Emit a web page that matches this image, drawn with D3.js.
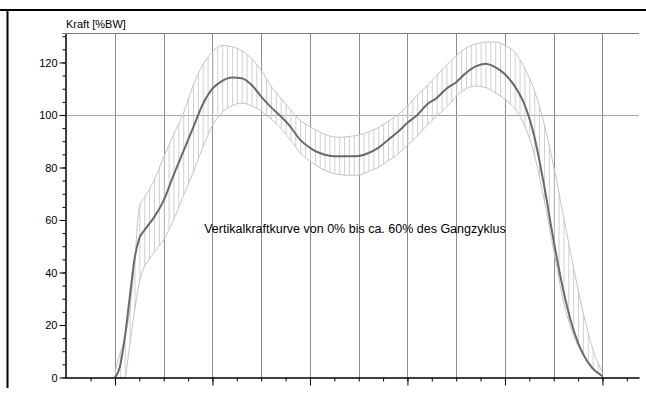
<!DOCTYPE html>
<html><head><meta charset="utf-8">
<script src="https://cdn.jsdelivr.net/npm/d3@7"></script>
<style>
body{margin:0;background:#fff}
svg{display:block}
text{font-family:"Liberation Sans",Arial,sans-serif}
</style>
</head><body>
<svg id="c" width="646" height="394"></svg>
<script>
// --- data (stance phase, normalized 0..100) ---
const stance = [0,1,2,3,4,5,6,7,8,10,12,14,16,18,20,22,24,26,28,30,32,34,36,38,40,42,44,46,48,50,52,54,56,58,60,62,64,66,68,70,72,74,76,78,80,82,84,86,88,90,92,94,96,98,100];
const meanForce = [0,4,15,30,45,53,56,58.5,61,67.5,77,86,95,104,110,113,114.3,114,111.5,107,103,99.5,95.5,90.5,87.5,85.5,84.5,84.3,84.3,84.4,85.5,87.5,90.5,93.5,97,100,104,106.5,110,112.5,116,118.5,119.5,118.2,115.5,111,104,92,73.5,52,33,18.5,9,3.5,0.5];
const upperForce = [2,9,15,25,43,65,68.5,71.5,75,84,92.5,100.5,111,119,124,126.5,126,124.5,121.5,117,111,106.5,102,98,95.5,93.5,92,91.5,91.8,92.4,93.5,95.2,97.5,100,103.5,107.5,111,115,119,122.5,125.5,127,127.8,127.8,126.5,124,118,109.5,97,80.5,61.5,42.5,25,11,2];
const lowerForce = [0,0,0,12,25,36,42,45,47.5,52.5,60,69,78,87.5,96,101,103.5,104.5,103.5,101.5,98.5,95,90.5,85.5,82.5,80,78.2,77.3,77,77.1,78.5,80,82.5,85,88.5,92,96,99.5,103,107,110,111,110.5,108.5,106,102.5,96,85,68,48.3,29,16.4,8.7,3,1];
const yTickLabels = [0,20,40,60,80,100,120];
const yMinorTicks = [0,5,10,15,20,25,30,35,40,45,50,55,60,65,70,75,80,85,90,95,100,105,110,115,120,125,130];
const xGrid = [0,10,20,30,40,50,60,70,80,90,100];
const xMinorTicks = [-5,0,5,10,15,20,25,30,35,40,45,50,55,60,65,70,75,80,85,90,95,100,105];
const xMajorTicks = [0,20,40,60,80,100];
const refLine = [100];
const yTitle = "Kraft [%BW]";
const note = "Vertikalkraftkurve von 0% bis ca. 60% des Gangzyklus";
const notePos = [18.3, 55];

// --- drawing ---
const svg = d3.select("#c");
const x = d3.scaleLinear().domain([-10.25, 107.5]).range([65, 639]);
const y = d3.scaleLinear().domain([0, 131]).range([377.5, 33.6]);

// outer frame
svg.append("line").attr("x1",0).attr("x2",646).attr("y1",10).attr("y2",10).attr("stroke","#000").attr("stroke-width",2);
svg.append("line").attr("x1",7.5).attr("x2",7.5).attr("y1",9).attr("y2",388).attr("stroke","#000").attr("stroke-width",2);

// plot top border
svg.append("line").attr("x1",62).attr("x2",639).attr("y1",33.5).attr("y2",33.5).attr("stroke","#7a7a7a");

// vertical grid
svg.append("g").selectAll("line").data(xGrid).join("line")
  .attr("x1",d=>Math.round(x(d))+0.5).attr("x2",d=>Math.round(x(d))+0.5)
  .attr("y1",33.5).attr("y2",y(0))
  .attr("stroke","#8c8c8c");

// horizontal reference line
svg.append("g").selectAll("line").data(refLine).join("line")
  .attr("x1",x.range()[0]).attr("x2",x.range()[1])
  .attr("y1",d=>Math.round(y(d))+0.5).attr("y2",d=>Math.round(y(d))+0.5)
  .attr("stroke","#a8a8a8");

// hatch pattern
const step = x(1)-x(0);
const defs = svg.append("defs");
const pat = defs.append("pattern").attr("id","hatch").attr("patternUnits","userSpaceOnUse")
  .attr("x", x(0)).attr("y",0).attr("width", step).attr("height", 10);
pat.append("line").attr("x1",0.5).attr("x2",0.5).attr("y1",0).attr("y2",10)
  .attr("stroke","#cfcfcf").attr("stroke-width",1);

const pts = stance.map((s,i)=>({s, m:meanForce[i], u:upperForce[i], l:lowerForce[i]}));
const curve = d3.curveMonotoneX;
svg.append("path").datum(pts)
  .attr("d", d3.area().x(d=>x(d.s)).y0(d=>y(d.l)).y1(d=>y(d.u)).curve(curve))
  .attr("fill","url(#hatch)");

const lineU = d3.line().x(d=>x(d.s)).y(d=>y(d.u)).curve(curve);
const lineL = d3.line().x(d=>x(d.s)).y(d=>y(d.l)).curve(curve);
const lineM = d3.line().x(d=>x(d.s)).y(d=>y(d.m)).curve(curve);
svg.append("path").datum(pts).attr("d",lineU).attr("fill","none").attr("stroke","#c4c4c4").attr("stroke-width",1);
svg.append("path").datum(pts).attr("d",lineL).attr("fill","none").attr("stroke","#c4c4c4").attr("stroke-width",1);
svg.append("path").datum(pts).attr("d",lineM).attr("fill","none").attr("stroke","#6a6a6a").attr("stroke-width",2);

// y axis
const yMinor = d3.axisLeft(y).tickValues(yMinorTicks).tickSize(3).tickFormat("").tickSizeOuter(0);
const yMajor = d3.axisLeft(y).tickValues(yTickLabels).tickSize(6).tickPadding(2).tickSizeOuter(0);
const gy1 = svg.append("g").attr("transform","translate(65.5,0)").call(yMinor);
const gy2 = svg.append("g").attr("transform","translate(65.5,0)").call(yMajor);
[gy1,gy2].forEach(g=>{ g.selectAll("line").attr("stroke","#000"); g.select(".domain").attr("stroke","#000"); });
gy2.selectAll("text").attr("font-size","11px").attr("fill","#000").style("font-family",'"Liberation Sans",Arial,sans-serif');

// x axis
const xMinor = d3.axisBottom(x).tickValues(xMinorTicks).tickSize(4).tickFormat("").tickSizeOuter(0);
const xMajor = d3.axisBottom(x).tickValues(xMajorTicks).tickSize(8).tickFormat("").tickSizeOuter(0);
const gx1 = svg.append("g").attr("transform",`translate(0,${y(0)})`).call(xMinor);
const gx2 = svg.append("g").attr("transform",`translate(0,${y(0)})`).call(xMajor);
[gx1,gx2].forEach(g=>{ g.selectAll("line").attr("stroke","#000"); g.select(".domain").attr("stroke","#000"); });

// titles
svg.append("text").attr("x",66).attr("y",28).attr("font-size","11px").attr("fill","#000").text(yTitle);
svg.append("text").attr("x",x(notePos[0])).attr("y",y(notePos[1])).attr("font-size","12.5px").attr("fill","#000").text(note);
</script>
</body></html>
